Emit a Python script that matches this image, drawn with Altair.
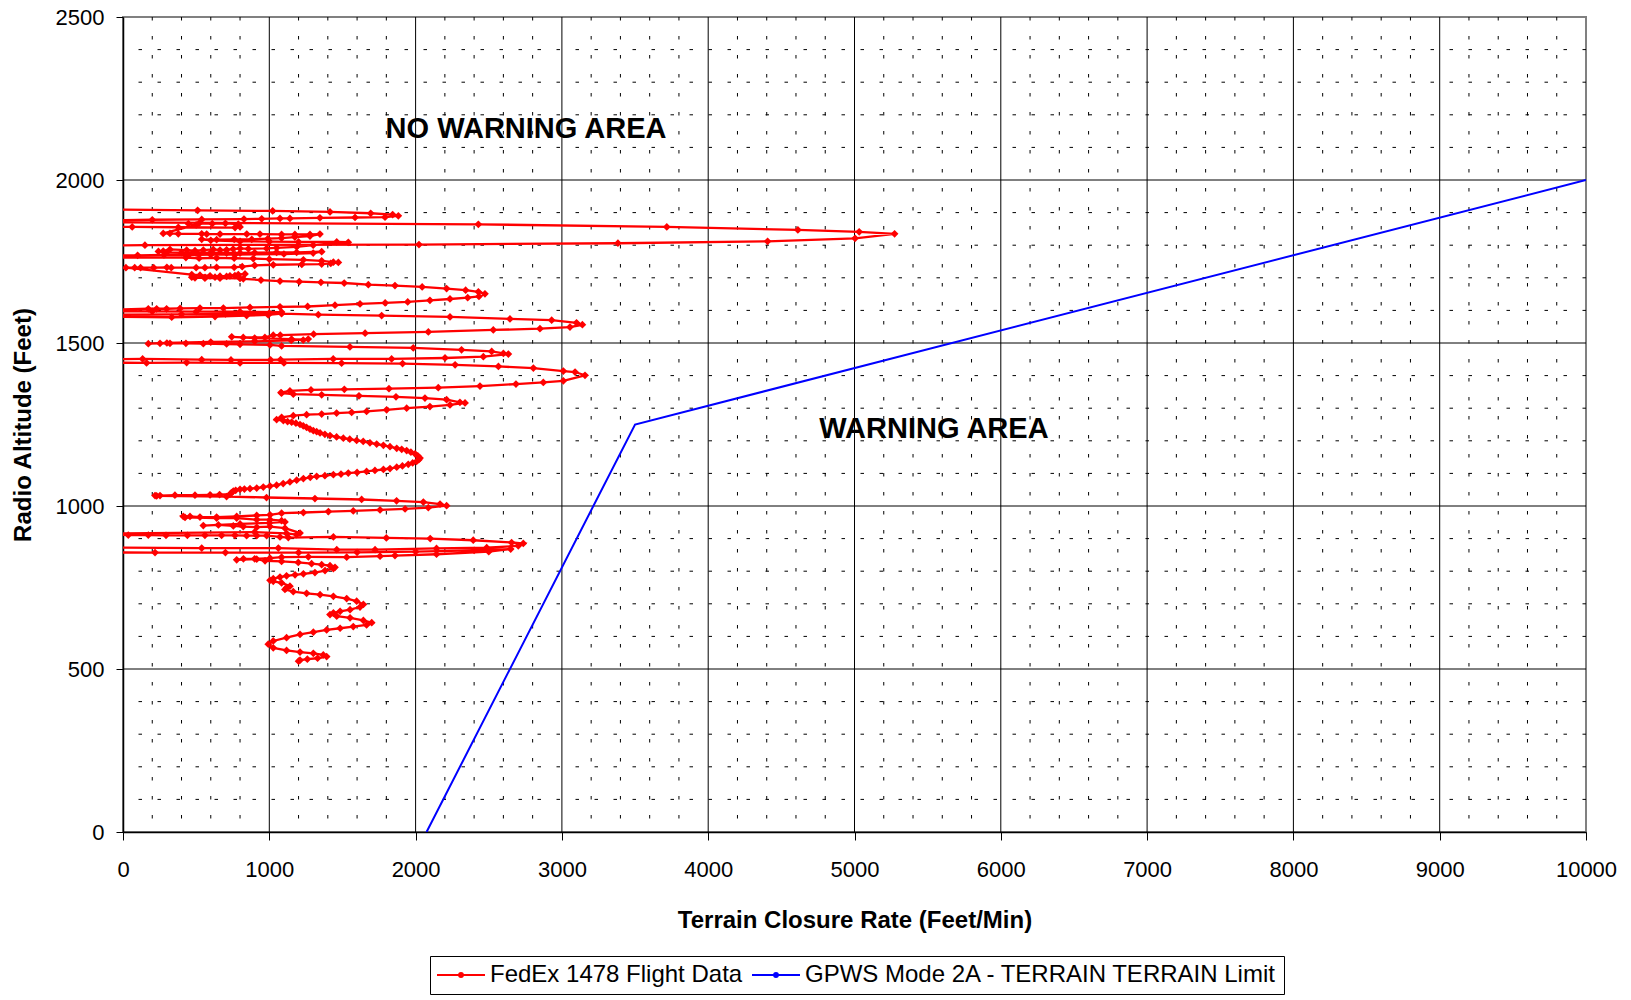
import altair as alt
import pandas as pd

FONT = "Liberation Sans, Arial, sans-serif"

# FedEx 1478 flight data: terrain closure rate (ft/min) and radio altitude (ft), in time order
RATE = [
    -300, 510, 1023, 1415, 1693, 1843, 1882, 1791, 1586, 1346, 1141, 1073, 948, 827, 538, 200, -300,
    -300, 2429, 3717, 4613, 5032, 5274, 5004, 4406, 3383, 2023, 150, -300,
    -300, 63, 378, 766, 800, 788, 700, 610, 520, 447, 500,
    275, 321, 378, 538, 572, 663, 846, 936, 1084, 1175, 1278, 1346,
    1278, 1175, 1084, 990, 880, 760, 640, 538, 600, 800, 1000, 1200, 1461, 1540,
    1300, 1187, 1050, 982, 857, 800, 753, 708, 663, 617, 549, 492, 435, 321, 275, 242,
    300, 400, 500, 600, 708, 800, 900, 1050, 1187, 1358, 1300, 1100,
    766, 600, 450, 280, 100, -300,
    -300, 430, 520, 640, 760, 890, 1000, 1233, 1358, 1438, 1472, 1420, 1358, 1222, 1027, 900, 815,
    760, 640, 560, 500, 330, 300, 210, 120, 80, 20,
    470, 526, 595, 663, 731, 788, 834, 765, 708, 629, 561, 492, 470, 560, 663, 800,
    822, 943, 1073, 1205, 1353, 1512, 1677, 1859, 2045, 2212, 2342, 2429, 2474,
    2433, 2356, 2235, 2098, 1946, 1792, 1620, 1449, 1262, 1073, 868, 686, 526, 390, 298, 230, 173, -300,
    -300, 200, 500, 800, 1084, 1000, 700, 400, -300,
    -300, 333, 629, 845, 993, 1084, 1335, 1768, 2235, 2645, 2930, 3100, 3140,
    3055, 2850, 2531, 2087, 1655, 1303, 1075, 1027, 970, 822, 743, 900, 1152, 1232, 1266,
    1150, 900, 600, 300, 173, 253, 321, 430, 549, 708, 800, 1005, 1084, 1551, 1984, 2314, 2520, 2600, 2634,
    2463, 2201, 1836, 1437, 1077, 1009, 738, 538, 134, -300,
    -300, 161, 435, 800, 1100, 1494, 1911, 2270, 2566, 2805, 3010, 3090, 3158,
    3010, 2873, 2686, 2440, 2155, 1818, 1513, 1285, 1141, 1080,
    1084, 1164, 1358, 1613, 1866, 2064, 2212, 2303, 2338,
    2235, 2098, 1939, 1802, 1665, 1563, 1460, 1358, 1255, 1164, 1084, 1050,
    1096, 1125, 1153, 1182, 1210, 1232, 1255, 1278, 1301, 1324, 1347, 1380, 1415, 1460, 1506, 1550,
    1597, 1642, 1688, 1734, 1780, 1825, 1871, 1905, 1939, 1968, 1996, 2015, 2030,
    2022, 2007, 1980, 1950, 1910, 1871, 1825, 1780, 1722, 1665, 1600, 1540, 1490, 1438, 1380, 1324,
    1280, 1233, 1187, 1141, 1095, 1050, 1005, 959, 914, 868, 830, 800, 770, 754, 740, 731,
    660, 595, 492, 355, 253, 219,
    230, 708, 981, 1312, 1631, 1870, 2053, 2167, 2212,
    2087, 1928, 1757, 1574, 1404, 1233, 1084, 1005, 914, 777, 640, 526, 458, 412,
    424, 640, 777, 914, 1005, 1084, 1107, 1000, 800,
    549, 652, 754, 822, 914, 1005, 1107, 1210, 1187, 1118, 900, -300,
    36, 173, 294, 440, 560, 674, 765, 845, 914, 982, 1073, 1130, 1438, 1800, 2100, 2394, 2656, 2736,
    2702, 2486, 2143, 1723, 1461, 1062, 538, -300,
    -300, 219, 700, 1200, 1600, 2000, 2400, 2650,
    2500, 2143, 1859, 1757, 1529, 1267, 1084, 1005, 900, 823, 777,
    914, 971, 1084, 1198, 1289, 1358, 1415, 1449, 1438, 1381, 1312, 1233, 1176, 1118, 1073, 1027, 1005,
    1027, 1084, 1141, 1118, 1107, 1164, 1255, 1347, 1438, 1529, 1597, 1643,
    1620, 1552, 1484, 1438, 1415, 1461, 1552, 1643, 1700,
    1665, 1574, 1484, 1392, 1301, 1210, 1118, 1027, 993,
    1027, 1118, 1210, 1301, 1369, 1392, 1330, 1260, 1210, 1200,
]
ALT = [
    1910, 1907, 1905, 1902, 1898, 1894, 1890, 1886, 1885, 1884, 1882, 1882, 1881, 1880, 1879, 1878, 1876,
    1871, 1864, 1856, 1847, 1841, 1835, 1821, 1812, 1806, 1802, 1800, 1799,
    1857, 1856, 1855, 1854, 1856, 1865, 1867, 1866, 1867, 1866, 1862,
    1836, 1836, 1835, 1835, 1834, 1834, 1834, 1834, 1833, 1833, 1833, 1834,
    1828, 1825, 1822, 1820, 1818, 1818, 1817, 1818, 1815, 1812, 1811, 1810, 1810, 1809,
    1800, 1795, 1792, 1790, 1789, 1790, 1788, 1786, 1785, 1787, 1785, 1783, 1785, 1787, 1782, 1781,
    1778, 1777, 1776, 1777, 1776, 1776, 1777, 1778, 1778, 1780, 1776, 1773,
    1771, 1771, 1770, 1770, 1769, 1768,
    1762, 1762, 1760, 1761, 1760, 1759, 1757, 1755, 1752, 1748, 1747, 1744, 1742, 1741, 1740, 1738, 1734,
    1732, 1732, 1731, 1731, 1731, 1732, 1731, 1731, 1731, 1731,
    1710, 1708, 1706, 1705, 1706, 1710, 1712, 1707, 1704, 1702, 1701, 1700, 1702, 1699, 1699, 1698,
    1697, 1693, 1690, 1688, 1686, 1684, 1679, 1676, 1672, 1667, 1662, 1657, 1651,
    1643, 1639, 1635, 1631, 1626, 1623, 1620, 1616, 1612, 1611, 1609, 1607, 1607, 1606, 1605, 1605, 1605, 1600,
    1597, 1597, 1596, 1596, 1595, 1592, 1589, 1588, 1586,
    1582, 1579, 1581, 1584, 1586, 1590, 1587, 1584, 1580, 1574, 1570, 1562, 1556,
    1549, 1544, 1540, 1534, 1530, 1527, 1524, 1524, 1517, 1517, 1519, 1515, 1512, 1509, 1512,
    1508, 1505, 1503, 1500, 1498, 1499, 1499, 1499, 1498, 1497, 1496, 1494, 1491, 1488, 1485, 1479, 1474, 1468, 1466,
    1458, 1454, 1451, 1451, 1449, 1448, 1448, 1449, 1451, 1450,
    1440, 1439, 1440, 1439, 1439, 1438, 1437, 1433, 1428, 1423, 1414, 1411, 1401,
    1384, 1379, 1374, 1368, 1363, 1360, 1358, 1356, 1353, 1348,
    1346, 1343, 1341, 1338, 1335, 1331, 1326, 1318, 1316,
    1310, 1305, 1300, 1295, 1290, 1287, 1285, 1282, 1280, 1277, 1272, 1265,
    1262, 1259, 1257, 1254, 1250, 1246, 1241, 1236, 1231, 1228, 1224, 1220, 1216, 1212, 1208, 1205,
    1201, 1198, 1194, 1190, 1186, 1182, 1177, 1174, 1170, 1165, 1160, 1154, 1147,
    1142, 1137, 1132, 1128, 1123, 1119, 1115, 1112, 1109, 1106, 1103, 1101, 1098, 1096, 1093, 1091,
    1088, 1084, 1079, 1074, 1069, 1064, 1061, 1058, 1055, 1053, 1052, 1051, 1048, 1046, 1040, 1036,
    1035, 1034, 1033, 1033, 1032, 1032,
    1031, 1029, 1026, 1023, 1020, 1016, 1012, 1006, 1001,
    995, 991, 988, 985, 983, 980, 978, 973, 971, 968, 966, 966, 968, 968,
    965, 963, 963, 958, 958, 955, 951, 948, 945,
    940, 942, 939, 937, 935, 937, 932, 917, 912, 916, 920, 915,
    911, 911, 910, 910, 910, 910, 910, 909, 909, 909, 905, 903, 905, 902, 900, 895, 888, 885,
    878, 872, 870, 866, 866, 871, 871, 873,
    858, 857, 857, 857, 858, 860, 864, 868,
    860, 852, 848, 846, 843, 844, 843, 840, 838, 838, 835,
    837, 832, 830, 827, 823, 820, 817, 812, 808, 802, 796, 792, 789, 786, 782, 777, 772,
    769, 764, 754, 749, 744, 737, 732, 728, 723, 716, 708, 698,
    690, 682, 677, 672, 667, 662, 657, 649, 642,
    635, 630, 625, 620, 613, 606, 596, 586, 576,
    565, 557, 552, 548, 543, 538, 533, 530, 527, 524,
]

# GPWS Mode 2A limit line
GPWS_RATE = [2075, 3500, 10000]
GPWS_ALT = [0, 1250, 2000]

SERIES = ["FedEx 1478 Flight Data", "GPWS Mode 2A - TERRAIN TERRAIN Limit"]

X_TICKS = list(range(0, 10001, 1000))
Y_TICKS = list(range(0, 2501, 500))
X_MAJOR = list(range(1000, 10000, 1000))
Y_MAJOR = [500, 1000, 1500, 2000]
X_MINOR = [v for v in range(200, 10000, 200) if v % 1000]
Y_MINOR = [v for v in range(100, 2500, 100) if v % 500]

ANNOT_TEXT = ["NO WARNING AREA", "WARNING AREA"]
ANNOT_X = [2755, 5543]
ANNOT_Y = [2156, 1237]

flight = pd.DataFrame({"rate": RATE, "alt": ALT})
flight["i"] = range(len(flight))
flight["series"] = SERIES[0]
gpws = pd.DataFrame({"rate": GPWS_RATE, "alt": GPWS_ALT})
gpws["i"] = range(len(gpws))
gpws["series"] = SERIES[1]

xs = alt.Scale(domain=[0, 10000], nice=False)
ys = alt.Scale(domain=[0, 2500], nice=False)
x_axis = alt.Axis(values=X_TICKS, format="d", grid=False, labelFlush=False,
                  title="Terrain Closure Rate (Feet/Min)")
y_axis = alt.Axis(values=Y_TICKS, format="d", grid=False, labelFlush=False,
                  title="Radio Altitude (Feet)")

LEG_PATH = "M-1,0H1M-0.08,0A0.08,0.08,0,1,0,0.08,0A0.08,0.08,0,1,0,-0.08,0"
legend = alt.Legend(
    orient="none", legendX=307, legendY=939, direction="horizontal", columns=2,
    title=None, symbolType=LEG_PATH, symbolSize=2304, symbolStrokeWidth=2,
    clipHeight=26,
    labelFont=FONT, labelFontSize=24, labelColor="black", labelLimit=0,
    labelOffset=4, columnPadding=8, padding=6,
    strokeColor="black", fillColor="white", cornerRadius=0,
)
color = alt.Color("series:N", scale=alt.Scale(domain=SERIES, range=["#FF0000", "#0000FF"]), legend=legend)

minor_x = alt.Chart(pd.DataFrame({"v": X_MINOR})).mark_rule(
    color="black", strokeWidth=1, strokeDash=[3.5, 15.5]
).encode(x=alt.X("v:Q", scale=xs, axis=x_axis))
minor_y = alt.Chart(pd.DataFrame({"v": Y_MINOR})).mark_rule(
    color="black", strokeWidth=1, strokeDash=[3.5, 15.5]
).encode(y=alt.Y("v:Q", scale=ys, axis=y_axis))
major_x = alt.Chart(pd.DataFrame({"v": X_MAJOR})).mark_rule(
    color="black", strokeWidth=1
).encode(x=alt.X("v:Q", scale=xs, axis=x_axis))
major_y = alt.Chart(pd.DataFrame({"v": Y_MAJOR})).mark_rule(
    color="black", strokeWidth=1
).encode(y=alt.Y("v:Q", scale=ys, axis=y_axis))

gpws_line = alt.Chart(gpws).mark_line(strokeWidth=2, clip=True).encode(
    x=alt.X("rate:Q", scale=xs, axis=x_axis),
    y=alt.Y("alt:Q", scale=ys, axis=y_axis),
    order="i:Q",
    color=color,
)
flight_line = alt.Chart(flight).mark_line(strokeWidth=2.3, clip=True).encode(
    x=alt.X("rate:Q", scale=xs, axis=x_axis),
    y=alt.Y("alt:Q", scale=ys, axis=y_axis),
    order="i:Q",
    color=color,
)
flight_pts = alt.Chart(flight).mark_point(
    shape="diamond", filled=True, size=60, color="#FF0000", opacity=1, clip=True
).encode(
    x=alt.X("rate:Q", scale=xs, axis=x_axis),
    y=alt.Y("alt:Q", scale=ys, axis=y_axis),
)
annots = alt.Chart(pd.DataFrame({"t": ANNOT_TEXT, "x": ANNOT_X, "y": ANNOT_Y})).mark_text(
    font=FONT, fontSize=29, fontWeight="bold", color="black", align="center", baseline="middle"
).encode(
    x=alt.X("x:Q", scale=xs, axis=x_axis),
    y=alt.Y("y:Q", scale=ys, axis=y_axis),
    text="t:N",
)

chart = alt.layer(
    minor_x, minor_y, major_x, major_y, gpws_line, flight_line, flight_pts, annots
).properties(
    width=1463, height=815, autosize="none",
    padding={"left": 115, "top": 9, "right": 34, "bottom": 166},
    background="white",
).configure_view(
    stroke="#808080", strokeWidth=2
).configure_axis(
    labelFont=FONT, titleFont=FONT, labelFontSize=22, titleFontSize=24,
    titleFontWeight="bold", labelColor="black", titleColor="black",
    domainColor="black", domainWidth=1.5, tickColor="black", tickWidth=1,
).configure_axisX(
    tickSize=8, labelPadding=19, titlePadding=28,
).configure_axisY(
    tickSize=7, labelPadding=12, titlePadding=20,
)

chart.save("out.html", embed_options={"renderer": "svg", "actions": False})
